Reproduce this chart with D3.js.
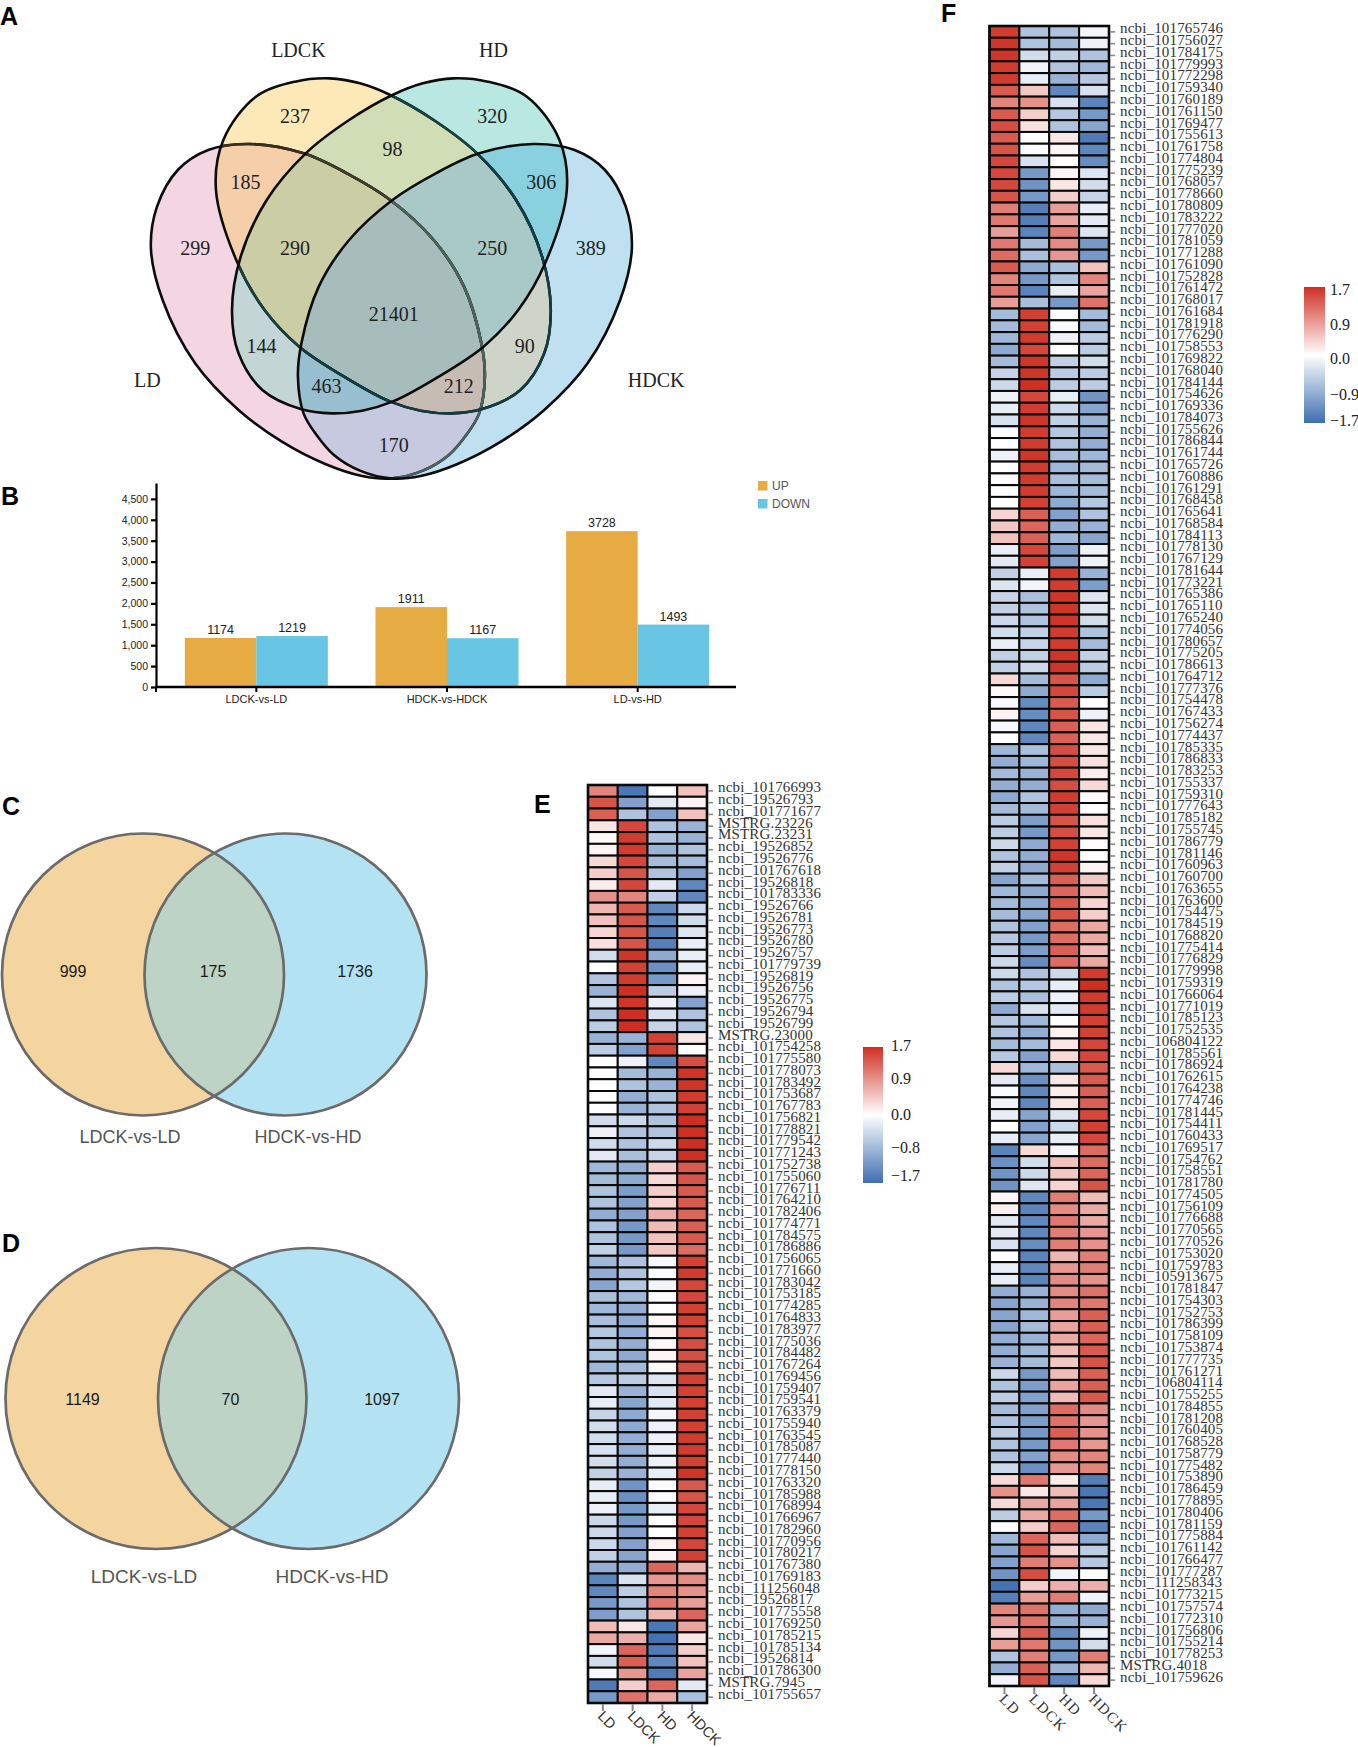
<!DOCTYPE html>
<html><head><meta charset="utf-8">
<script src="https://cdn.jsdelivr.net/npm/d3@7"></script>
<style>
html,body{margin:0;padding:0;background:#fff}
svg{display:block;font-family:"Liberation Sans",Arial,sans-serif}
text.serif{font-family:"Liberation Serif",serif}
</style></head><body>
<svg id="fig" width="1358" height="1747"></svg>
<script>
// ---------- DATA ----------
const fourSets = ["LD","LDCK","HD","HDCK"];
const fourRegionSets = [[0],[1],[2],[3],[0,1],[1,2],[2,3],[0,2],[1,3],[0,3],[0,1,2],[1,2,3],[0,2,3],[0,1,3],[0,1,2,3]];
const fourRegionCounts = [299,237,320,389,185,98,306,144,90,170,290,250,463,212,21401];
const fourRegionColors = ["#f3d6e2","#fde8b8","#b9e8e2","#bfe0f1","#f5cfaa","#d1ddb4","#8ad1e0","#c3d5d5","#cfd4c9","#c7c9e0","#cbcda5","#a9c9c7","#97bfd0","#c6bcb4","#a6bdbb"];

const barGroups = ["LDCK-vs-LD","HDCK-vs-HDCK","LD-vs-HD"];
const barUp = [1174,1911,3728];
const barDown = [1219,1167,1493];
const barTicks = [0,500,1000,1500,2000,2500,3000,3500,4000,4500];

const vennCNames = ["LDCK-vs-LD","HDCK-vs-HD"];
const vennCCounts = [999,175,1736];
const vennDNames = ["LDCK-vs-LD","HDCK-vs-HD"];
const vennDCounts = [1149,70,1097];

const labelsE = ["ncbi_101766993","ncbi_19526793","ncbi_101771677","MSTRG.23226","MSTRG.23231","ncbi_19526852","ncbi_19526776","ncbi_101767618","ncbi_19526818","ncbi_101783336","ncbi_19526766","ncbi_19526781","ncbi_19526773","ncbi_19526780","ncbi_19526757","ncbi_101779739","ncbi_19526819","ncbi_19526756","ncbi_19526775","ncbi_19526794","ncbi_19526799","MSTRG.23000","ncbi_101754258","ncbi_101775580","ncbi_101778073","ncbi_101783492","ncbi_101753687","ncbi_101767783","ncbi_101756821","ncbi_101778821","ncbi_101779542","ncbi_101771243","ncbi_101752738","ncbi_101755060","ncbi_101776711","ncbi_101764210","ncbi_101782406","ncbi_101774771","ncbi_101784575","ncbi_101786886","ncbi_101756065","ncbi_101771660","ncbi_101783042","ncbi_101753185","ncbi_101774285","ncbi_101764833","ncbi_101783977","ncbi_101775036","ncbi_101784482","ncbi_101767264","ncbi_101769456","ncbi_101759407","ncbi_101759541","ncbi_101763379","ncbi_101755940","ncbi_101763545","ncbi_101785087","ncbi_101777440","ncbi_101778150","ncbi_101763320","ncbi_101785988","ncbi_101768994","ncbi_101766967","ncbi_101782960","ncbi_101770956","ncbi_101780217","ncbi_101767380","ncbi_101769183","ncbi_111256048","ncbi_19526817","ncbi_101775558","ncbi_101769250","ncbi_101785215","ncbi_101785134","ncbi_19526814","ncbi_101786300","MSTRG.7945","ncbi_101755657"];
const valuesE = [[1,-1.6,0,.5],[1.4,-1.1,-.25,.1],[1.3,-.7,-1.1,.5],[.2,1.5,-.7,-.9],[.05,1.6,-.7,-.9],[.1,1.6,-.9,-.7],[.3,1.5,-.8,-.8],[.4,1.4,-.7,-1.1],[.15,1.5,-.25,-1.4],[.9,1,-.55,-1.4],[.6,1.35,-1.4,-.45],[.5,1.4,-1.4,-.4],[.35,1.4,-1.5,-.3],[.25,1.4,-1.5,-.2],[-.4,1.65,-1,-.2],[-.02,1.55,-1.3,-.2],[-.7,1.6,-1.2,.1],[-.9,1.7,-.6,-.15],[-.3,1.65,-.15,-1.1],[-.7,1.7,-.35,-.7],[-.6,1.7,-.5,-.7],[-.9,-.9,1.55,.2],[-.6,-1.1,1.55,.03],[-.02,-.15,-1.4,1.45],[-.02,-.8,-.9,1.65],[0,-.7,-.9,1.65],[0,-.95,-.7,1.6],[0,-.9,-.7,1.55],[-.4,-.45,-.7,1.7],[-.15,-.7,-.7,1.7],[-.4,-.7,-.45,1.7],[-.25,-.75,-.5,1.7],[-.85,-.95,.4,1.35],[-.8,-1,.3,1.4],[-.7,-1.15,.4,1.35],[-.7,-1.1,.35,1.35],[-.95,-1.1,.65,1.25],[-.7,-1.2,.55,1.3],[-.7,-1.2,.5,1.35],[-.55,-1.2,.45,1.2],[-.85,-.7,-.08,1.55],[-.95,-.7,-.05,1.6],[-1.05,-.65,-.12,1.5],[-.75,-.85,-.02,1.5],[-.85,-.95,0,1.55],[-.75,-.95,.05,1.55],[-.65,-.95,.1,1.45],[-.7,-.95,.05,1.45],[-.7,-1,.1,1.45],[-.85,-.8,.05,1.45],[-.65,-.6,-.3,1.55],[-.25,-.9,-.35,1.55],[-.2,-1.05,-.25,1.55],[-.5,-1,-.1,1.55],[-.4,-1,-.15,1.55],[-.4,-.95,-.15,1.6],[-.35,-.95,-.2,1.6],[-.4,-.95,-.15,1.55],[-.55,-.9,-.2,1.65],[-.2,-1.25,-.02,1.35],[-.2,-1.3,-.03,1.4],[-.15,-1.2,-.2,1.5],[-.45,-1.2,-.02,1.5],[-.45,-1.1,0,1.55],[-.45,-1.1,.1,1.5],[-.55,-1.05,.08,1.55],[-.95,-.95,1.25,.6],[-1.45,-.35,.85,.95],[-1.4,-.6,1,.9],[-1.2,-.7,1.1,.8],[-1.15,-.7,.6,1.25],[.55,.2,-1.6,.75],[.7,.65,-1.65,.2],[-.12,1.25,-1.55,.4],[-.4,1.3,-1.4,.5],[-.08,.85,-1.55,.75],[-1.55,.4,1.25,-.25],[-1.2,1.15,.7,-.75]];

const labelsF = ["ncbi_101765746","ncbi_101756027","ncbi_101784175","ncbi_101779993","ncbi_101772298","ncbi_101759340","ncbi_101760189","ncbi_101761150","ncbi_101769477","ncbi_101755613","ncbi_101761758","ncbi_101774804","ncbi_101775239","ncbi_101768057","ncbi_101778660","ncbi_101780809","ncbi_101783222","ncbi_101777020","ncbi_101781059","ncbi_101771288","ncbi_101761090","ncbi_101752828","ncbi_101761472","ncbi_101768017","ncbi_101761684","ncbi_101781918","ncbi_101776290","ncbi_101758553","ncbi_101769822","ncbi_101768040","ncbi_101784144","ncbi_101754626","ncbi_101769336","ncbi_101784073","ncbi_101755626","ncbi_101786844","ncbi_101761744","ncbi_101765726","ncbi_101760886","ncbi_101761291","ncbi_101768458","ncbi_101765641","ncbi_101768584","ncbi_101784113","ncbi_101778130","ncbi_101767129","ncbi_101781644","ncbi_101773221","ncbi_101765386","ncbi_101765110","ncbi_101765240","ncbi_101774056","ncbi_101780657","ncbi_101775205","ncbi_101786613","ncbi_101764712","ncbi_101777376","ncbi_101754478","ncbi_101767433","ncbi_101756274","ncbi_101774437","ncbi_101785335","ncbi_101786833","ncbi_101783253","ncbi_101755337","ncbi_101759310","ncbi_101777643","ncbi_101785182","ncbi_101755745","ncbi_101786779","ncbi_101781146","ncbi_101760963","ncbi_101760700","ncbi_101763655","ncbi_101763600","ncbi_101754475","ncbi_101784519","ncbi_101768820","ncbi_101775414","ncbi_101776829","ncbi_101779998","ncbi_101759319","ncbi_101766064","ncbi_101771019","ncbi_101785123","ncbi_101752535","ncbi_106804122","ncbi_101785561","ncbi_101786924","ncbi_101762615","ncbi_101764238","ncbi_101774746","ncbi_101781445","ncbi_101754411","ncbi_101760433","ncbi_101769517","ncbi_101754762","ncbi_101758551","ncbi_101781780","ncbi_101774505","ncbi_101756109","ncbi_101776688","ncbi_101770565","ncbi_101770526","ncbi_101753020","ncbi_101759783","ncbi_105913675","ncbi_101781847","ncbi_101754303","ncbi_101752753","ncbi_101786399","ncbi_101758109","ncbi_101753874","ncbi_101777735","ncbi_101761271","ncbi_106804114","ncbi_101755255","ncbi_101784855","ncbi_101781208","ncbi_101760405","ncbi_101768528","ncbi_101758779","ncbi_101775482","ncbi_101753890","ncbi_101786459","ncbi_101778895","ncbi_101780406","ncbi_101781159","ncbi_101775884","ncbi_101761142","ncbi_101766477","ncbi_101777287","ncbi_111258343","ncbi_101773215","ncbi_101757574","ncbi_101772310","ncbi_101756806","ncbi_101755214","ncbi_101778253","MSTRG.4018","ncbi_101759626"];
const valuesF = [[1.6,-.7,-.7,-.1],[1.65,-.7,-.8,-.15],[1.65,-.4,-.55,-.7],[1.6,-.12,-.7,-.85],[1.6,-.2,-.9,-.65],[1.35,.45,-1.4,-.35],[1,.9,-.35,-1.45],[1.35,.4,-.65,-1.2],[1.45,.25,-.7,-1.05],[1.35,0,.2,-1.55],[1.4,-.03,.07,-1.4],[1.5,-.35,.03,-1.35],[1.5,-1.2,.08,-.3],[1.5,-1.25,.2,-.4],[1.4,-1.2,.4,-.5],[1.05,-1.5,.8,-.2],[1.1,-1.5,.75,-.25],[.8,-1.45,1.05,-.3],[1.1,-.8,.95,-1.2],[1.2,-.75,.85,-1.2],[1.35,-1,-.75,.5],[1,-1.2,-.7,1],[1.1,-1.45,-.2,.75],[.8,-.75,-1.2,1.15],[-.8,1.55,-.02,-.8],[-.8,1.55,-.05,-.8],[-.85,1.6,-.15,-.6],[-1,1.5,0,-.6],[-.8,1.65,-.55,-.4],[-.5,1.65,-.6,-.6],[-.45,1.7,-.6,-.6],[-.15,1.5,-.2,-1.25],[-.2,1.6,-.45,-1.05],[-.35,1.65,-.55,-.9],[-.05,1.6,-.65,-.95],[0,1.6,-.7,-.95],[-.15,1.65,-.75,-.85],[0,1.6,-.85,-.8],[-.03,1.6,-.75,-.8],[-.02,1.6,-.85,-.8],[0,1.55,-1,-.65],[.35,1.3,-1.1,-.7],[.45,1.25,-.95,-.9],[.5,1.3,-.85,-1.05],[-.2,1.5,-1.15,-.15],[-.25,1.55,-1.1,-.15],[-.55,-.2,1.6,-.9],[-.3,-.12,1.6,-1.15],[-.5,-.75,1.65,-.3],[-.55,-.7,1.65,-.3],[-.45,-.7,1.65,-.4],[-.4,-.55,1.6,-.7],[-.2,-.5,1.6,-.8],[-.55,-.55,1.65,-.55],[-.55,-.45,1.65,-.6],[.3,-.8,1.4,-1],[.05,-1,1.5,-.6],[-.07,-1.35,1.35,0],[.1,-1.35,1.4,-.15],[-.08,-1.4,1.3,.2],[0,-1.4,1.3,.2],[-.85,-.75,1.45,.2],[-.95,-.85,1.45,.25],[-.8,-.9,1.5,.15],[-.95,-.95,1.45,.3],[-1,-.7,1.6,.03],[-.8,-.8,1.55,0],[-.6,-1.15,1.4,.25],[-.6,-1.2,1.45,.2],[-.45,-1,1.55,-.03],[-.7,-.95,1.65,0],[-.55,-1,1.55,.1],[-1.05,-.8,1.3,.45],[-.85,-1,1.25,.55],[-.8,-1,1.35,.35],[-.8,-1.05,1.4,.4],[-.7,-1.1,1.2,.7],[-.65,-1.2,1.2,.7],[-.6,-1.15,1.3,.55],[-.45,-1.35,1.2,.7],[-.45,-.7,-.45,1.6],[-.7,-.65,-.2,1.7],[-.6,-.75,-.15,1.6],[-1,-.35,-.25,1.6],[-.65,-.85,-.02,1.55],[-.7,-.95,.1,1.55],[-.8,-.8,.2,1.5],[-.65,-1.1,.3,1.5],[.3,-.85,-.75,1.35],[-.25,-1.3,.2,1.35],[-.07,-1.4,.15,1.3],[-.12,-1.4,.2,1.3],[-.2,-1.05,-.3,1.5],[-.02,-1.1,-.45,1.55],[-.2,-1.05,-.2,1.5],[-1.45,.3,-.1,1.2],[-1.3,-.4,.5,1.2],[-1.25,-.45,.45,1.25],[-1.25,-.3,.35,1.4],[.07,-1.4,1.05,.55],[.12,-1.45,.95,.7],[-.25,-1.4,1.1,.7],[-.25,-1.4,1.05,.85],[-.35,-1.35,1.05,.9],[-.01,-1.45,.6,1.05],[-.2,-1.4,.85,1.05],[-.2,-1.45,.95,.9],[-.95,-.9,.95,1.15],[-1.05,-.9,1,1.1],[-1.05,-.85,.8,1.3],[-1.05,-.8,.75,1.3],[-.95,-.9,.7,1.25],[-.95,-.85,.55,1.35],[-.9,-.8,.45,1.4],[-.45,-1.2,.55,1.3],[-.7,-1.15,.75,1.3],[-.6,-1.1,.55,1.35],[-.8,-1.1,1.2,.95],[-.7,-1.15,1.15,.85],[-.6,-1.2,1.3,.9],[-.7,-1.2,1.1,.85],[-.7,-1.1,.95,1],[-.45,-1.3,.85,1],[.3,1.1,.15,-1.5],[.9,.2,.55,-1.6],[.3,.7,.75,-1.6],[-.6,.7,1.2,-1.2],[-.02,.4,1.25,-1.45],[-.85,1.25,.55,-1],[-1.05,1.4,.35,-.6],[-1.1,1.05,.9,-.65],[-1.25,1.45,-.12,-.01],[-1.65,.4,.65,.65],[-1.5,.8,1.05,-.12],[1,1.15,-.95,-1],[.85,1.15,-.95,-.9],[.35,1.3,-1.35,-.15],[.8,1.1,-1.25,-.4],[-.7,1.05,-1.2,1.05],[-.95,1.3,-.9,.6],[-.12,1.4,-1.4,.3]];

const legendEValues = [1.7,.9,0,-.8,-1.7];
const legendFValues = [1.7,.9,0,-.9,-1.7];

// ---------- SETUP ----------
const svg = d3.select("#fig");
const defs = svg.append("defs");
svg.append("rect").attr("width",1358).attr("height",1747).attr("fill","#fff");
const heatColor = d3.scaleLinear().domain([-1.7,0,1.7]).range(["#3f6eb0","#ffffff","#cf2f22"]);

// panel letters
[["A",0,25],["B",1,505],["C",2,815],["D",2,1252],["E",534,813],["F",941,22]].forEach(([t,x,y])=>{
  svg.append("text").attr("x",x).attr("y",y).attr("font-size",25).attr("font-weight",700).attr("fill","#000").text(t);
});

// ---------- PANEL A ----------
(function(){
  const px = d3.scaleLinear().domain([0,1568]).range([0,680]);
  const py = d3.scaleLinear().domain([0,1470]).range([0,490]);
  const outline = [[348,745],[362,620],[410,510],[480,450],[575,432],[700,460],[800,520],[900,600],[1000,720],[1070,860],[1110,1030],[1118,1130],[1105,1240],[1075,1305],[1035,1365],[975,1412],[905,1435],[835,1428],[750,1392],[650,1325],[550,1230],[450,1090],[375,900]];
  const inner = [[498,570],[515,420],[590,290],[680,245],[760,235],[830,250],[900,285],[1000,360],[1100,460],[1190,600],[1250,770],[1270,930],[1255,1060],[1200,1170],[1110,1228],[1040,1240],[970,1232],[900,1205],[800,1135],[690,1040],[610,930],[548,790]];
  const mirror = pts => pts.map(([x,y])=>[1805-x,y]);
  const shapes = [outline, inner, mirror(inner), mirror(outline)];
  const line = d3.line().x(d=>px(d[0])).y(d=>py(d[1])).curve(d3.curveCatmullRomClosed.alpha(.5));
  const paths = shapes.map(s=>line(s));
  paths.forEach((p,i)=>defs.append("clipPath").attr("id","vc"+i).append("path").attr("d",p));
  const g = svg.append("g");
  fourRegionSets.forEach((sets,k)=>{
    let cur = g;
    sets.forEach(i=>{cur = cur.append("g").attr("clip-path",`url(#vc${i})`);});
    cur.append("rect").attr("x",100).attr("y",0).attr("width",600).attr("height",520).attr("fill",fourRegionColors[k]);
  });
  // strokes: earlier outlines look lighter beneath later translucent shapes
  const stroke = (i,c,clip)=>{
    let t = g;
    if(clip!==undefined) t = g.append("g").attr("clip-path",`url(#vc${clip})`);
    t.append("path").attr("d",paths[i]).attr("fill","none").attr("stroke",c).attr("stroke-width",2.6);
  };
  stroke(0,"#0c0c0c"); stroke(0,"#3a2e1e",1); stroke(0,"#3d3d2e",2); stroke(0,"#4b625f",3);
  stroke(1,"#0c0c0c"); stroke(1,"#17403f",2); stroke(1,"#123c42",3);
  stroke(2,"#0c0c0c"); stroke(3,"#0c0c0c");
  const countPos = [[450,745],[680,350],[1135,350],[1362,745],[566,547],[905,447],[1248,547],[603,1040],[1210,1040],[908,1335],[680,745],[1135,745],[753,1160],[1058,1160],[908,942]];
  fourRegionCounts.forEach((c,k)=>{
    svg.append("text").attr("class","serif").attr("x",px(countPos[k][0])).attr("y",py(countPos[k][1])).attr("dy",".34em")
      .attr("text-anchor","middle").attr("font-size",20).attr("fill","#222").text(c);
  });
  const namePos = [[340,1140],[688,152],[1138,152],[1513,1140]];
  fourSets.forEach((n,k)=>{
    svg.append("text").attr("class","serif").attr("x",px(namePos[k][0])).attr("y",py(namePos[k][1])).attr("dy",".34em")
      .attr("text-anchor","middle").attr("font-size",20).attr("fill","#222").text(n);
  });
})();

// ---------- PANEL B ----------
(function(){
  const x = d3.scaleBand().domain(barGroups).range([161,733]).paddingInner(.25).paddingOuter(.125);
  const sub = d3.scaleBand().domain(["up","down"]).range([0,x.bandwidth()]);
  const y = d3.scaleLinear().domain([0,4880]).range([687,483]);
  const g = svg.append("g");
  const series = [["up",barUp,"#e6ab43"],["down",barDown,"#68c6e4"]];
  series.forEach(([k,vals,col])=>{
    g.selectAll("rect."+k).data(vals).enter().append("rect").attr("class",k)
      .attr("x",(d,i)=>x(barGroups[i])+sub(k)).attr("width",sub.bandwidth())
      .attr("y",d=>y(d)).attr("height",d=>y(0)-y(d)).attr("fill",col);
    g.selectAll("text."+k).data(vals).enter().append("text").attr("class",k)
      .attr("x",(d,i)=>x(barGroups[i])+sub(k)+sub.bandwidth()/2).attr("y",d=>y(d)-4)
      .attr("text-anchor","middle").attr("font-size",12.5).attr("fill","#222").text(d=>d);
  });
  const ya = g.append("g").attr("transform","translate(156,0)")
    .call(d3.axisLeft(y).tickValues(barTicks).tickFormat(d3.format(",")).tickSize(5).tickSizeOuter(0));
  ya.selectAll("path,line").attr("stroke","#000").attr("stroke-width",2.2);
  ya.selectAll("text").attr("font-size",10.5).attr("fill","#222").attr("font-family","Liberation Sans");
  const xa = g.append("g").attr("transform","translate(0,687)")
    .call(d3.axisBottom(x).tickSize(5).tickSizeOuter(0));
  xa.select("path").remove();
  xa.selectAll("line").attr("stroke","#000").attr("stroke-width",2);
  xa.selectAll("text").attr("font-size",11).attr("fill","#222").attr("font-family","Liberation Sans").attr("dy",".75em");
  g.append("line").attr("x1",155).attr("x2",736).attr("y1",687).attr("y2",687).attr("stroke","#000").attr("stroke-width",2.6);
  g.append("line").attr("x1",156).attr("x2",156).attr("y1",687).attr("y2",692).attr("stroke","#000").attr("stroke-width",2);
  [["UP","#e6ab43",481],["DOWN","#68c6e4",499]].forEach(([t,c,yy])=>{
    g.append("rect").attr("x",758).attr("y",yy).attr("width",9.5).attr("height",9.5).attr("fill",c);
    g.append("text").attr("x",772).attr("y",yy+4.8).attr("dy",".35em").attr("font-size",12).attr("fill","#555").text(t);
  });
})();

// ---------- PANELS C, D ----------
function twoVenn(id,cy,r,cx1,cx2,counts,names,numPos,numY,nameY,nameX,nameSize){
  const g = svg.append("g");
  defs.append("clipPath").attr("id",id).append("circle").attr("cx",cx1).attr("cy",cy).attr("r",r);
  g.append("circle").attr("cx",cx1).attr("cy",cy).attr("r",r).attr("fill","#f4d5a0");
  g.append("circle").attr("cx",cx2).attr("cy",cy).attr("r",r).attr("fill","#b3e3f2");
  g.append("g").attr("clip-path",`url(#${id})`).append("circle").attr("cx",cx2).attr("cy",cy).attr("r",r).attr("fill","#bcd3c6");
  [cx1,cx2].forEach(c=>g.append("circle").attr("cx",c).attr("cy",cy).attr("r",r).attr("fill","none").attr("stroke","#6b6b6b").attr("stroke-width",2.7));
  counts.forEach((v,i)=>g.append("text").attr("x",numPos[i]).attr("y",numY).attr("dy",".35em").attr("text-anchor","middle").attr("font-size",16).attr("fill","#1a1a1a").text(v));
  names.forEach((n,i)=>g.append("text").attr("x",nameX[i]).attr("y",nameY).attr("dy",".35em").attr("text-anchor","middle").attr("font-size",nameSize).attr("fill","#555").text(n));
}
twoVenn("cC",974.5,141,143,285.5,vennCCounts,vennCNames,[73,213,355],971.5,1137,[130,308],18);
twoVenn("cD",1398.5,150.5,156,308.5,vennDCounts,vennDNames,[82.5,230.5,382],1399.5,1576,[144,332],19);

// ---------- HEATMAPS ----------
function heat(opts){
  const {x0,x1,y0,y1,labels,values,colFont,colSize,colSpacing,colDx,colDy} = opts;
  const g = svg.append("g");
  const x = d3.scaleBand().domain(fourSets).range([x0,x1]);
  const y = d3.scaleBand().domain(labels).range([y0,y1]);
  const rows = g.selectAll("g.r").data(values).enter().append("g").attr("class","r")
    .attr("transform",(d,i)=>`translate(0,${y(labels[i])})`);
  rows.selectAll("rect").data(d=>d).enter().append("rect")
    .attr("x",(d,j)=>x(fourSets[j])).attr("width",x.bandwidth()).attr("height",y.bandwidth())
    .attr("fill",d=>heatColor(d)).attr("stroke","#0a0a0a").attr("stroke-width",2);
  g.append("rect").attr("x",x0).attr("y",y0).attr("width",x1-x0).attr("height",y1-y0).attr("fill","none").attr("stroke","#0a0a0a").attr("stroke-width",2.6);
  const ra = g.append("g").attr("transform",`translate(${x1+1},0)`).call(d3.axisRight(y).tickSize(5).tickSizeOuter(0));
  ra.select("path").remove();
  ra.selectAll("line").attr("stroke","#8a8a8a").attr("stroke-width",1.6);
  ra.selectAll("text").attr("x",10).attr("dy",".1em").attr("font-family","Liberation Serif").attr("font-size",15).attr("letter-spacing",".17px").attr("fill","#333");
  const ba = g.append("g").attr("transform",`translate(0,${y1+1})`).call(d3.axisBottom(x).tickSize(7).tickSizeOuter(0));
  ba.select("path").remove();
  ba.selectAll("line").attr("stroke","#8a8a8a").attr("stroke-width",2);
  ba.selectAll("text").attr("transform",`translate(${colDx},${colDy}) rotate(45)`).attr("x",0).attr("y",0).attr("dy",0)
    .attr("text-anchor","start").attr("font-family",colFont).attr("font-size",colSize).attr("letter-spacing",colSpacing).attr("fill","#333");
}
heat({x0:588,x1:707,y0:785,y1:1703,labels:labelsE,values:valuesE,colFont:"Liberation Sans",colSize:14.5,colSpacing:"0px",colDx:-6,colDy:13});
heat({x0:989.5,x1:1109,y0:26,y1:1686,labels:labelsF,values:valuesF,colFont:"Liberation Serif",colSize:15,colSpacing:"1.3px",colDx:-6,colDy:13});

// ---------- COLOUR LEGENDS ----------
function legend(id,x,w,top,bottom,vals,pos,lx){
  const grad = defs.append("linearGradient").attr("id",id).attr("x1",0).attr("x2",0).attr("y1",0).attr("y2",1);
  d3.range(0,1.0001,.125).forEach(t=>{
    const v = 1.7-3.4*t;
    grad.append("stop").attr("offset",t).attr("stop-color",heatColor(v));
  });
  svg.append("rect").attr("x",x).attr("y",top).attr("width",w).attr("height",bottom-top).attr("fill",`url(#${id})`);
  const ly = d3.scaleOrdinal().domain(vals).range(pos);
  vals.forEach(v=>svg.append("text").attr("class","serif").attr("x",lx).attr("y",ly(v)).attr("dy",".35em")
    .attr("font-size",16).attr("fill","#222").text(d3.format(".1f")(v)));
}
legend("gE",863,20,1047,1183,legendEValues,[1045,1078,1114,1147,1175],891);
legend("gF",1304,21,287,423,legendFValues,[289,324,358,394,420],1330);
</script>
</body></html>
